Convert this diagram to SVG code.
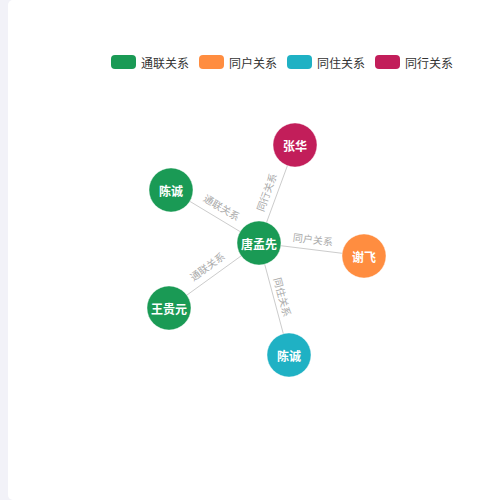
<svg xmlns="http://www.w3.org/2000/svg" width="500" height="500" viewBox="0 0 500 500">
<style>
.bg{fill:#f2f2f8}
.panel{fill:#ffffff}
.lg{font-family:"Noto Sans CJK SC","Liberation Sans",sans-serif;font-size:12px;fill:#333333;dominant-baseline:central}
.edge{stroke:#cccccc;stroke-width:1;fill:none}
.el{font-family:"Noto Sans CJK SC","Liberation Sans",sans-serif;font-size:10px;fill:#aaaaaa;text-anchor:middle;dominant-baseline:central}
.nl{font-family:"Noto Sans CJK SC","Liberation Sans",sans-serif;font-size:12px;font-weight:bold;fill:#ffffff;text-anchor:middle;dominant-baseline:central}
.g{fill:#1a9a55}
.o{fill:#ff8d40}
.c{fill:#1fb1c4}
.m{fill:#c21e5a}
.n{stroke:#ffffff;stroke-opacity:0.4;stroke-width:1}
</style>
<rect class="bg" x="0" y="0" width="500" height="500"/>
<rect class="panel" x="8" y="0" width="500" height="500" rx="5"/>
<g id="legend">
<rect class="g" x="111" y="55" width="25" height="14" rx="4"/>
<text class="lg" x="141" y="62">通联关系</text>
<rect class="o" x="199" y="55" width="25" height="14" rx="4"/>
<text class="lg" x="229" y="62">同户关系</text>
<rect class="c" x="287" y="55" width="25" height="14" rx="4"/>
<text class="lg" x="317" y="62">同住关系</text>
<rect class="m" x="375" y="55" width="25" height="14" rx="4"/>
<text class="lg" x="405" y="62">同行关系</text>
</g>
<g id="connectors">
<line class="edge" x1="259" y1="243" x2="171" y2="190"/>
<line class="edge" x1="259" y1="243" x2="295" y2="145"/>
<line class="edge" x1="259" y1="243" x2="364" y2="256"/>
<line class="edge" x1="259" y1="243" x2="169" y2="308"/>
<line class="edge" x1="259" y1="243" x2="289" y2="355"/>
<text class="el" transform="translate(222,207) rotate(31)">通联关系</text>
<text class="el" transform="translate(266,192) rotate(-70)">同行关系</text>
<text class="el" transform="translate(313,239) rotate(7)">同户关系</text>
<text class="el" transform="translate(207,266) rotate(-36)">通联关系</text>
<text class="el" transform="translate(283,297) rotate(75)">同住关系</text>
</g>
<g id="node-tangmengxian">
<circle class="g n" cx="259" cy="243" r="22"/>
<text class="nl" x="259" y="243">唐孟先</text>
</g>
<g id="node-zhanghua">
<circle class="m n" cx="295" cy="145" r="22"/>
<text class="nl" x="295" y="145">张华</text>
</g>
<g id="node-chencheng-1">
<circle class="g n" cx="171" cy="190" r="22"/>
<text class="nl" x="171" y="190">陈诚</text>
</g>
<g id="node-xiefei">
<circle class="o n" cx="364" cy="256" r="22"/>
<text class="nl" x="364" y="256">谢飞</text>
</g>
<g id="node-wangguiyuan">
<circle class="g n" cx="169" cy="308" r="22"/>
<text class="nl" x="169" y="308">王贵元</text>
</g>
<g id="node-chencheng-2">
<circle class="c n" cx="289" cy="355" r="22"/>
<text class="nl" x="289" y="355">陈诚</text>
</g>
</svg>
